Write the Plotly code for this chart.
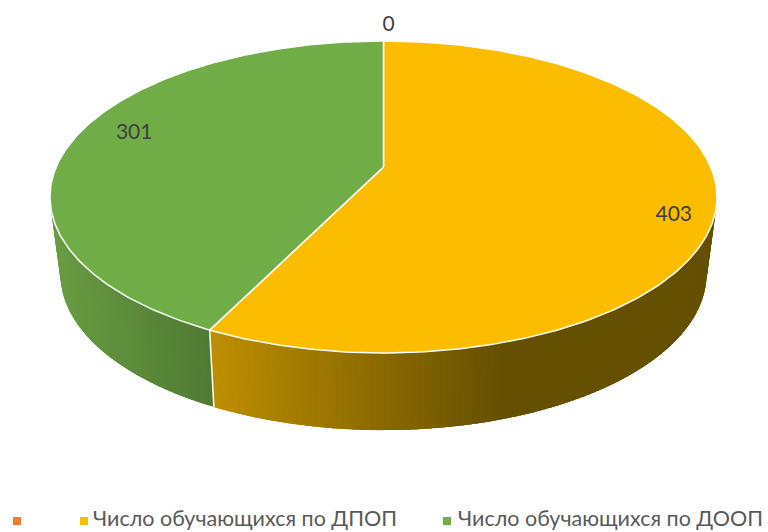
import numpy as np
import plotly.graph_objects as go

categories = ["", "Число обучающихся по ДПОП", "Число обучающихся по ДООП"]
values = [0, 403, 301]
top_colors = ["#ED7D31", "#FCBD00", "#70AD47"]
side_near = [(237, 125, 49), (190, 142, 0), (106, 156, 66)]
side_far = [(237, 125, 49), (101, 79, 0), (78, 122, 50)]
grad_x = [(0, 1), (215, 500), (60, 215)]
label_offsets = [(5, -15), (2, 18), (18, -5)]
label_radius = [1.0, 0.87, 0.87]
legend_marker_x = [17, 84, 447]
legend_text_x = [26, 93, 458]

W, H = 768, 532
TOP = dict(x0=383.5, y0=167, a=327.3, b=150.2, k=0.192)
BOT = dict(x0=383.5, y0=243, a=316.5, b=149.7, k=0.2)


def project(g, theta_deg, r=1.0):
    t = np.radians(theta_deg)
    u, v = r * np.sin(t), r * np.cos(t)
    d = 1 + g["k"] * v
    return g["x0"] + g["a"] * u / d, g["y0"] - g["b"] * v / d


def mix(c1, c2, f):
    f = min(max(f, 0), 1)
    return "rgb(%d,%d,%d)" % tuple(round(p + (q - p) * f) for p, q in zip(c1, c2))


total = sum(values)
edges = np.concatenate([[0], np.cumsum(values) / total * 360])
fig = go.Figure()

# side wall: overlapping bands painted in sequence, shaded along x
for i in range(len(values)):
    lo, hi = edges[i], edges[i + 1]
    if hi <= lo:
        continue
    vis_lo, vis_hi = max(lo, 85), min(hi, 275)
    steps = np.arange(vis_lo, vis_hi, 1.0).tolist() + [vis_hi]
    for s0, s1 in zip(steps[:-1], steps[1:]):
        end = min(s1 + 1.5, vis_hi)
        th = np.linspace(s0, end, 4)
        xt, yt = project(TOP, th)
        xb, yb = project(BOT, th[::-1])
        g0, g1 = grad_x[i]
        mx = (project(BOT, s0)[0] + project(BOT, s1)[0]) / 2
        col = mix(side_near[i], side_far[i], (mx - g0) / (g1 - g0))
        fig.add_trace(go.Scatter(
            x=[*xt, *xb, xt[0]], y=[*yt, *yb, yt[0]], mode="lines",
            fill="toself", fillcolor=col, line=dict(color=col, width=0),
            hoverinfo="skip", showlegend=False))

# seam between the walls
seam = edges[2]
sx0, sy0 = project(TOP, seam)
sx1, sy1 = project(BOT, seam)
fig.add_trace(go.Scatter(x=[sx0, sx1], y=[sy0, sy1], mode="lines",
                         line=dict(color="white", width=1.5),
                         hoverinfo="skip", showlegend=False))

# top face
for i in range(len(values)):
    lo, hi = edges[i], edges[i + 1]
    if hi <= lo:
        continue
    th = np.linspace(lo, hi, 240)
    xs, ys = project(TOP, th)
    ax, ay = project(TOP, 0, 0)
    fig.add_trace(go.Scatter(
        x=[ax, *xs, ax], y=[ay, *ys, ay], mode="lines", fill="toself",
        fillcolor=top_colors[i], line=dict(color="white", width=1.5),
        name=categories[i], hoverinfo="skip", showlegend=False))

# data labels
for i, val in enumerate(values):
    mid = (edges[i] + edges[i + 1]) / 2
    lx, ly = project(TOP, mid, label_radius[i])
    dx, dy = label_offsets[i]
    fig.add_trace(go.Scatter(
        x=[lx + dx], y=[ly + dy], mode="text", text=[str(val)],
        textposition="middle center",
        textfont=dict(family="Lato, 'Noto Sans', sans-serif", size=21, color="#404040"),
        hoverinfo="skip", showlegend=False))

# legend row
fig.add_trace(go.Scatter(
    x=legend_marker_x, y=[521] * 3, mode="markers",
    marker=dict(symbol="square", size=8, color=top_colors),
    hoverinfo="skip", showlegend=False, cliponaxis=False))
fig.add_trace(go.Scatter(
    x=legend_text_x, y=[521] * 3, mode="text",
    text=categories, textposition="middle right",
    textfont=dict(family="Lato, 'Noto Sans', sans-serif", size=21.5, color="#595959"),
    hoverinfo="skip", showlegend=False, cliponaxis=False))

fig.update_layout(
    width=W, height=H, margin=dict(l=0, r=0, t=0, b=0),
    paper_bgcolor="white", plot_bgcolor="white", showlegend=False,
    xaxis=dict(range=[0, W], visible=False, fixedrange=True),
    yaxis=dict(range=[H, 0], visible=False, fixedrange=True),
)
fig.write_html("out.html", config={"displayModeBar": False},
               post_script="document.body.style.margin='0';")
